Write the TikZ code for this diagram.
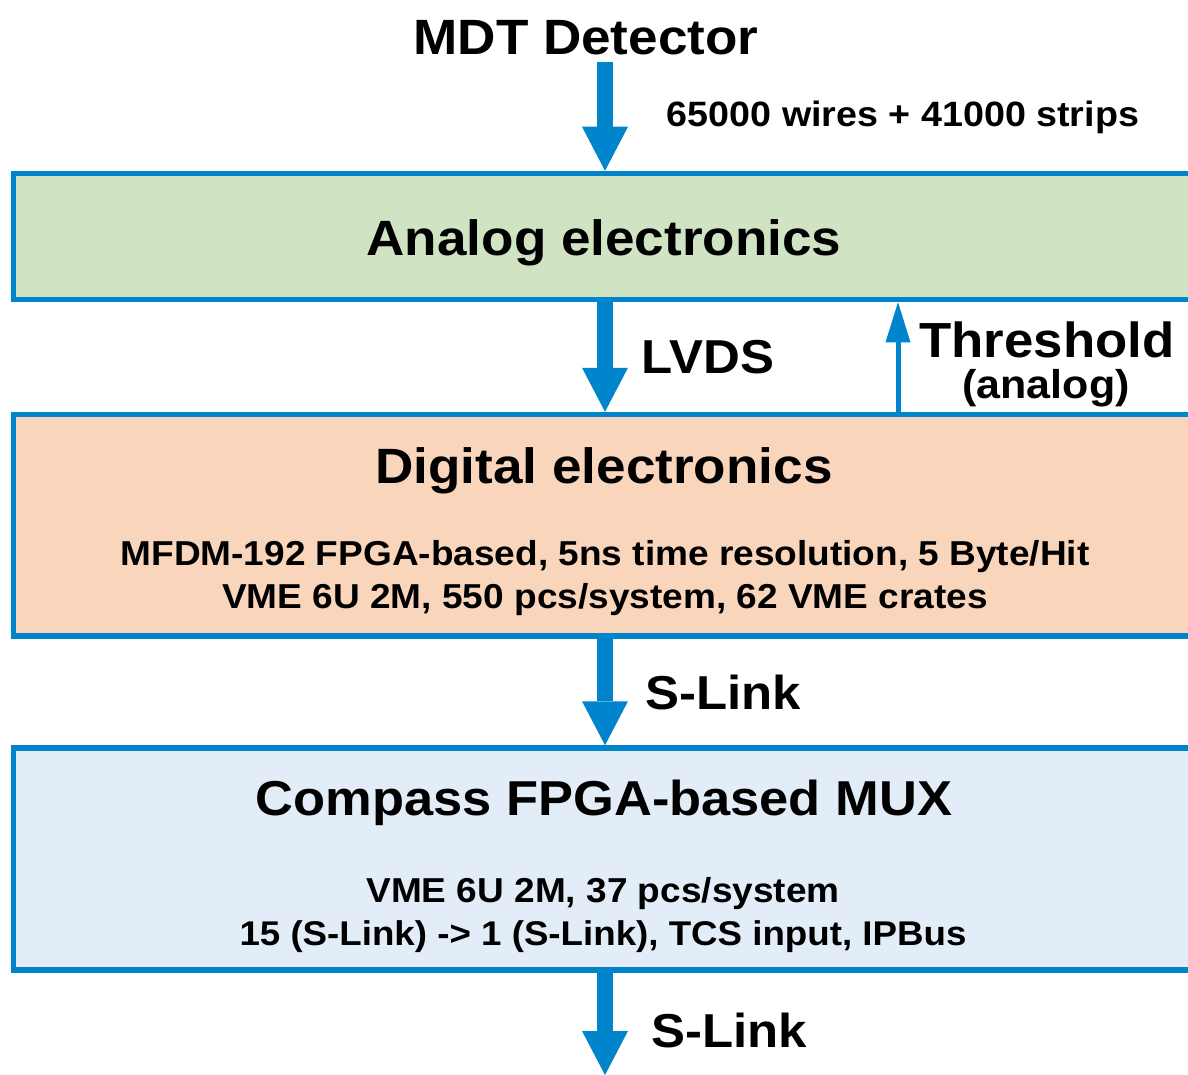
\documentclass[tikz,border=0pt]{standalone}
\usepackage{fontspec}
\setmainfont{Liberation Sans}[FakeStretch=1.07]
\usetikzlibrary{arrows.meta}
\definecolor{lineblue}{HTML}{0084CC}
\definecolor{greenfill}{HTML}{D0E4C3}
\definecolor{orangefill}{HTML}{F9D5BB}
\definecolor{bluefill}{HTML}{E3EDF8}
\tikzset{
  boxst/.style={draw=lineblue, line width=5.5pt, minimum width=1186.5pt, inner sep=0pt},
  fatarr/.style={draw=lineblue, line width=16pt, -{Triangle[width=46pt,length=44pt,line width=0pt]}},
  thinarr/.style={draw=lineblue, line width=5pt, -{Triangle[width=25pt,length=40pt,line width=0pt]}},
  txt/.style={anchor=base, inner sep=0pt},
  big/.style={txt, font=\fontsize{49.6}{55}\selectfont\bfseries},
  mid/.style={txt, font=\fontsize{47.6}{52}\selectfont\bfseries},
  small/.style={txt, font=\fontsize{34.6}{40}\selectfont\bfseries},
}
\begin{document}
\begin{tikzpicture}[x=1pt,y=-1pt]
\clip (0,0) rectangle (1188,1075);
\fill[white] (0,0) rectangle (1188,1075);
% boxes
\node[boxst, fill=greenfill, minimum height=126pt] (analog) at (606.75,236.5) {};
\node[boxst, fill=orangefill, minimum height=221.5pt] (digital) at (606.75,525.25) {};
\node[boxst, fill=bluefill, minimum height=222pt] (compass) at (606.75,859) {};
% texts
\node[big] (mdt) at (586,55) {MDT Detector};
\node[txt, font=\fontsize{35.2}{40}\selectfont\bfseries] (wires) at (903,127) {65000 wires + 41000 strips};
\node[big] (analogt) at (604,255) {Analog electronics};
\node[mid] (lvds) at (708,373) {LVDS};
\node[txt, font=\fontsize{49.3}{55}\selectfont\bfseries] (thr) at (1047,357) {Threshold};
\node[txt, font=\fontsize{40.2}{44}\selectfont\bfseries] (thra) at (1046,398) {(analog)};
\node[big] (digitalt) at (604,483) {Digital electronics};
\node[small] (mfdm) at (605,565) {MFDM-192 FPGA-based, 5ns time resolution, 5 Byte/Hit};
\node[small] (vmea) at (605,608) {VME 6U 2M, 550 pcs/system, 62 VME crates};
\node[mid] (slinka) at (723,709) {S-Link};
\node[txt, font=\fontsize{49}{55}\selectfont\bfseries] (compasst) at (604,815) {Compass FPGA-based MUX};
\node[small] (vmeb) at (603,902) {VME 6U 2M, 37 pcs/system};
\node[txt, font=\fontsize{34.3}{40}\selectfont\bfseries] (mux) at (603,945) {15 (S-Link) -> 1 (S-Link), TCS input, IPBus};
\node[mid] (slinkb) at (729,1047) {S-Link};
% connectors
\coordinate (axis) at (605,0);
\coordinate (thrx) at (898,0);
\coordinate (start) at (605,62);
\coordinate (out) at (605,1075);
\draw[fatarr] (start) -- (axis |- analog.north);
\draw[fatarr] (axis |- analog.south) -- (axis |- digital.north);
\draw[thinarr] (thrx |- digital.north) -- (thrx |- analog.south);
\draw[fatarr] (axis |- digital.south) -- (axis |- compass.north);
\draw[fatarr] (axis |- compass.south) -- (out);
\end{tikzpicture}
\end{document}
